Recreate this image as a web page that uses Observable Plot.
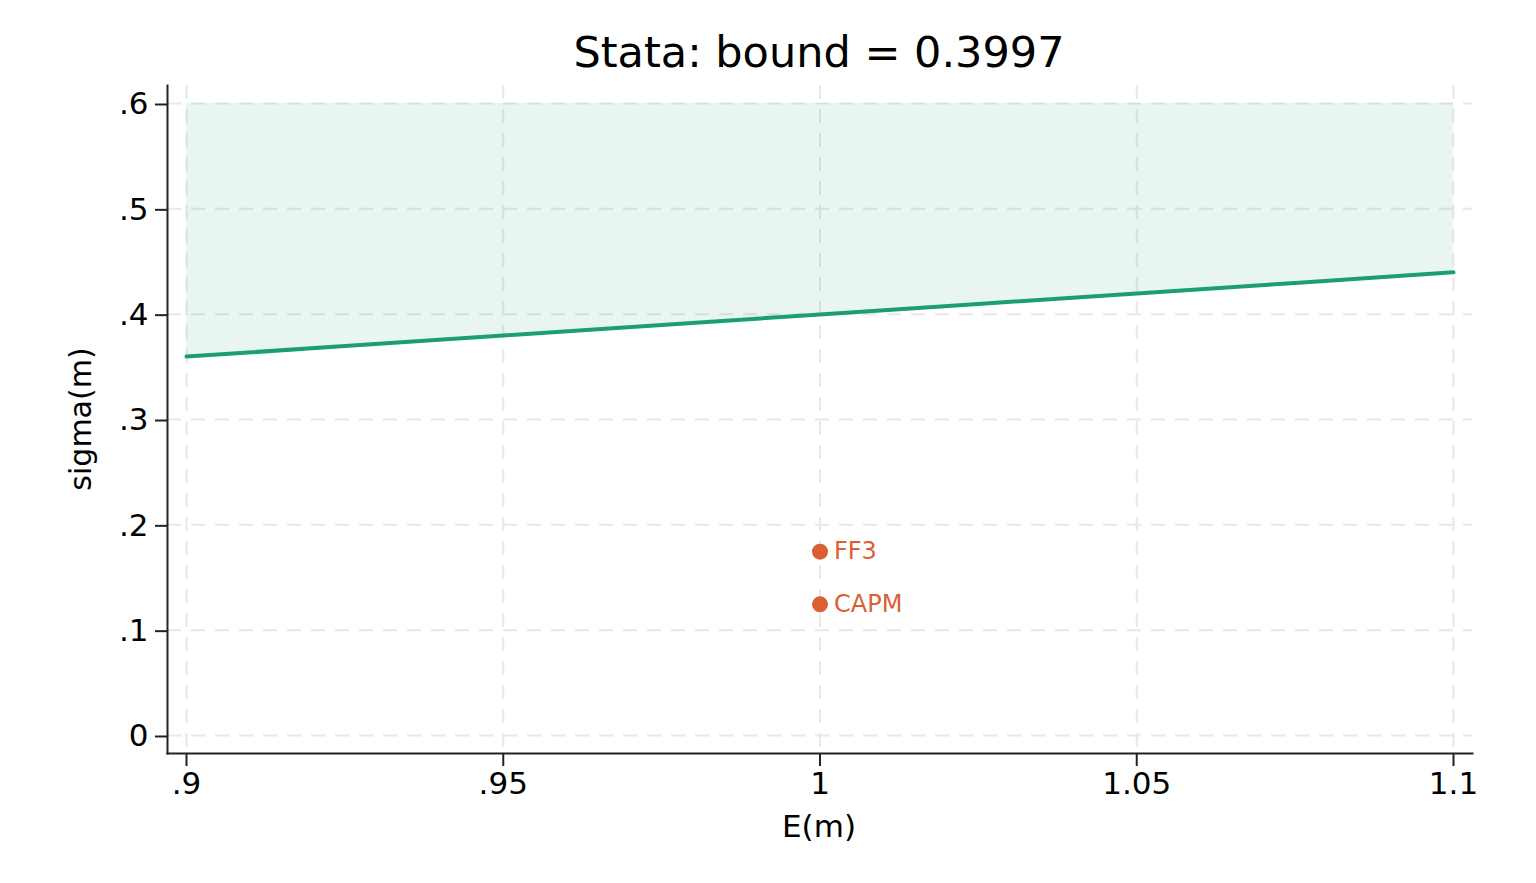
<!DOCTYPE html>
<html>
<head>
<meta charset="utf-8">
<script src="https://cdn.jsdelivr.net/npm/d3@7"></script>
<script src="https://cdn.jsdelivr.net/npm/@observablehq/plot@0.6"></script>
<style>
  body { margin: 0; background: #fff; font-family: "DejaVu Sans", sans-serif; }
  #title { height: 75px; width: 1536px; position: relative; }
  #title span { position: absolute; left: 819px; top: 31px; transform: translateX(-50%); font-size: 43px; color: #000; white-space: nowrap; line-height: 1; }
</style>
</head>
<body>
<div id="title"><span>Stata: bound = 0.3997</span></div>
<div id="chart"></div>
<script>
const titleText = "Stata: bound = 0.3997";
const boundMeans = [0.9, 0.925, 0.95, 0.975, 1.0, 1.025, 1.05, 1.075, 1.1];
const boundSigmas = [0.3597, 0.3697, 0.3797, 0.3897, 0.3997, 0.4097, 0.4197, 0.4297, 0.4397];
const areaTop = 0.6;
const modelNames = ["FF3", "CAPM"];
const modelMeans = [1.0, 1.0];
const modelSigmas = [0.1745, 0.1245];
const xTicks = [0.9, 0.95, 1.0, 1.05, 1.1];
const yTicks = [0, 0.1, 0.2, 0.3, 0.4, 0.5, 0.6];
const xLabel = "E(m)";
const yLabel = "sigma(m)";

const bound = boundMeans.map((m, i) => ({m, s: boundSigmas[i], top: areaTop}));
const models = modelNames.map((n, i) => ({name: n, m: modelMeans[i], s: modelSigmas[i]}));
const fmt = d => d === 0 ? "0" : String(+d.toFixed(3)).replace(/^0\./, ".");

const green = "#1b9e77";
const orange = "#d95f35";
const gridColor = "#e8e8e8";

const plot = Plot.plot({
  width: 1536,
  height: 808,
  marginTop: 10,
  marginBottom: 130,
  marginLeft: 167,
  marginRight: 64,
  style: {fontFamily: "DejaVu Sans, sans-serif", fontSize: "31px", color: "#000", background: "#fff"},
  x: {domain: [0.9, 1.1], insetLeft: 19, insetRight: 19},
  y: {domain: [0, 0.6], insetTop: 18, insetBottom: 18},
  marks: [
    Plot.gridX(xTicks, {stroke: gridColor, strokeOpacity: 1, strokeWidth: 2, strokeDasharray: "14,10"}),
    Plot.gridY(yTicks, {stroke: gridColor, strokeOpacity: 1, strokeWidth: 2, strokeDasharray: "14,10"}),
    Plot.areaY(bound, {x: "m", y1: "s", y2: "top", fill: green, fillOpacity: 0.1}),
    Plot.line(bound, {x: "m", y: "s", stroke: green, strokeWidth: 4}),
    Plot.dot(models, {x: "m", y: "s", r: 8, fill: orange, stroke: "none"}),
    Plot.text(models, {x: "m", y: "s", text: "name", dx: 14, textAnchor: "start", fill: orange, fontSize: 24}),
    Plot.axisX(xTicks, {tickFormat: fmt, tickSize: 13, tickPadding: 5, strokeWidth: 2, stroke: "#222", label: null, fontSize: 31}),
    Plot.axisY(yTicks, {tickFormat: fmt, tickSize: 12, tickPadding: 7, strokeWidth: 2, stroke: "#222", label: null, fontSize: 31, dy: 1}),
    Plot.frame({anchor: "left", stroke: "#222", strokeWidth: 2}),
    Plot.frame({anchor: "bottom", stroke: "#222", strokeWidth: 2})
  ]
});

const svg = d3.select(plot);
svg.append("text")
  .attr("x", 819).attr("y", 753)
  .attr("text-anchor", "middle").attr("dominant-baseline", "middle")
  .attr("font-size", 31).attr("fill", "#000")
  .text(xLabel);
svg.append("text")
  .attr("transform", "translate(82,344) rotate(-90)")
  .attr("text-anchor", "middle").attr("dominant-baseline", "middle")
  .attr("font-size", 30).attr("fill", "#000")
  .text(yLabel);

document.getElementById("chart").appendChild(plot);
</script>
</body>
</html>
